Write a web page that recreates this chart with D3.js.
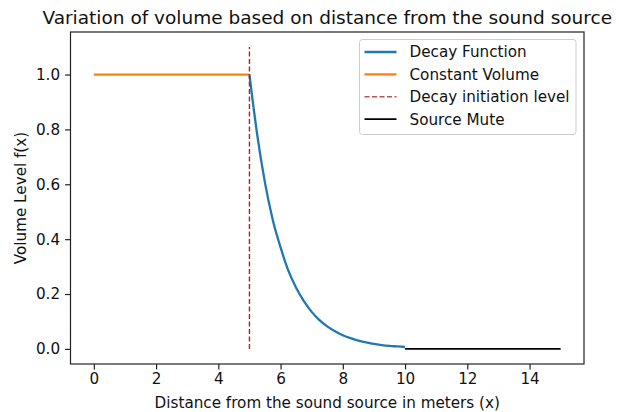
<!DOCTYPE html>
<html lang="en">
  <head>
    <style type="text/css">
      body {margin: 0; background-color: #fff;}
      svg {display: block; font-family: "DejaVu Sans", sans-serif;}
    </style>
  </head>
  <body>
    <svg id="chart" width="619" height="412"></svg>

    <script src="https://d3js.org/d3.v7.min.js"></script>
    <script type="text/javascript">
        // data
        var decayX = [5, 5.25, 5.5, 5.75, 6, 6.25, 6.5, 6.75, 7, 7.25, 7.5, 7.75, 8, 8.25, 8.5, 8.75, 9, 9.25, 9.5, 9.75, 10];
        var decayY = [1.0, 0.78, 0.605, 0.47, 0.37, 0.285, 0.223, 0.174, 0.135, 0.105, 0.082, 0.064, 0.05, 0.039, 0.03, 0.024, 0.018, 0.014, 0.011, 0.009, 0.007];
        var constX = [0, 5];
        var constY = [1, 1];
        var muteX = [10, 15];
        var muteY = [0, 0];
        var decayStart = 5;
        var decayLineTop = 1.1;
        var xTicks = [0, 2, 4, 6, 8, 10, 12, 14];
        var yTicks = [0, 0.2, 0.4, 0.6, 0.8, 1.0];
        var legendNames = ["Decay Function", "Constant Volume", "Decay initiation level", "Source Mute"];

        var svg = d3.select("#chart");
        var margin = {left: 70.5, right: 35, top: 32, bottom: 48};
        var W = 619, H = 412;
        var fs = "15.2px";

        var x = d3.scaleLinear().domain([-0.75, 15.75]).range([margin.left, W - margin.right]);
        var y = d3.scaleLinear().domain([-0.055, 1.155]).range([H - margin.bottom, margin.top]);

        var line = d3.line()
            .x(function(d) { return x(d[0]); })
            .y(function(d) { return y(d[1]); });

        // axes
        var xAxis = svg.append("g")
            .attr("transform", "translate(0," + (H - margin.bottom) + ")")
            .call(d3.axisBottom(x).tickValues(xTicks).tickSize(5.4).tickPadding(4).tickFormat(d3.format("d")));
        var yAxis = svg.append("g")
            .attr("transform", "translate(" + margin.left + ",0)")
            .call(d3.axisLeft(y).tickValues(yTicks).tickSize(5.4).tickPadding(5).tickFormat(d3.format(".1f")));

        [xAxis, yAxis].forEach(function(a) {
          a.select(".domain").remove();
          a.selectAll("line").attr("stroke", "#222").attr("stroke-width", 1.2);
          a.selectAll("text").attr("fill", "#111").style("font-size", fs).style("font-family", "DejaVu Sans");
        });

        // frame
        svg.append("rect")
            .attr("x", x.range()[0]).attr("y", y.range()[1])
            .attr("width", x.range()[1] - x.range()[0])
            .attr("height", y.range()[0] - y.range()[1])
            .attr("fill", "none").attr("stroke", "#222").attr("stroke-width", 1.2);

        // series
        svg.append("path")
            .datum(decayX.map(function(v, i) { return [v, decayY[i]]; }))
            .attr("d", line.curve(d3.curveMonotoneX))
            .attr("fill", "none").attr("stroke", "#1f77b4").attr("stroke-width", 2.3);

        line.curve(d3.curveLinear);

        svg.append("path")
            .datum(constX.map(function(v, i) { return [v, constY[i]]; }))
            .attr("d", line)
            .attr("fill", "none").attr("stroke", "#ff7f0e").attr("stroke-width", 2.3);

        svg.append("line")
            .attr("x1", x(decayStart)).attr("x2", x(decayStart))
            .attr("y1", y(0)).attr("y2", y(decayLineTop))
            .attr("stroke", "#b22222").attr("stroke-width", 1.4)
            .attr("stroke-dasharray", "5,2.5");

        svg.append("path")
            .datum(muteX.map(function(v, i) { return [v, muteY[i]]; }))
            .attr("d", line)
            .attr("fill", "none").attr("stroke", "#000").attr("stroke-width", 1.7);

        // legend
        var legend = svg.append("g").attr("transform", "translate(359.5,39.5)");
        legend.append("rect")
            .attr("width", 216.5).attr("height", 95).attr("rx", 3)
            .attr("fill", "#fff").attr("fill-opacity", 0.8)
            .attr("stroke", "#ccc").attr("stroke-width", 1);

        var styles = [
          {c: "#1f77b4", w: 2.3, dash: null},
          {c: "#ff7f0e", w: 2.3, dash: null},
          {c: "#c44e52", w: 1.5, dash: "5,2.5"},
          {c: "#000", w: 1.7, dash: null}
        ];
        legendNames.forEach(function(name, i) {
          var gy = 12.5 + i * 22.4;
          legend.append("line")
              .attr("x1", 5).attr("x2", 37).attr("y1", gy).attr("y2", gy)
              .attr("stroke", styles[i].c).attr("stroke-width", styles[i].w)
              .attr("stroke-dasharray", styles[i].dash);
          legend.append("text")
              .attr("x", 50).attr("y", gy).attr("dy", "0.35em")
              .style("font-size", fs).attr("fill", "#111")
              .text(name);
        });

        // title and labels
        var cx = (x.range()[0] + x.range()[1]) / 2;
        svg.append("text")
            .attr("x", cx).attr("y", 24)
            .attr("text-anchor", "middle")
            .style("font-size", "18.5px").attr("fill", "#111")
            .text("Variation of volume based on distance from the sound source");

        svg.append("text")
            .attr("x", cx).attr("y", 408)
            .attr("text-anchor", "middle")
            .style("font-size", fs).attr("fill", "#111")
            .text("Distance from the sound source in meters (x)");

        svg.append("text")
            .attr("transform", "translate(26," + ((y.range()[0] + y.range()[1]) / 2) + ") rotate(-90)")
            .attr("text-anchor", "middle")
            .style("font-size", fs).attr("fill", "#111")
            .text("Volume Level f(x)");
    </script>
  </body>
</html>
